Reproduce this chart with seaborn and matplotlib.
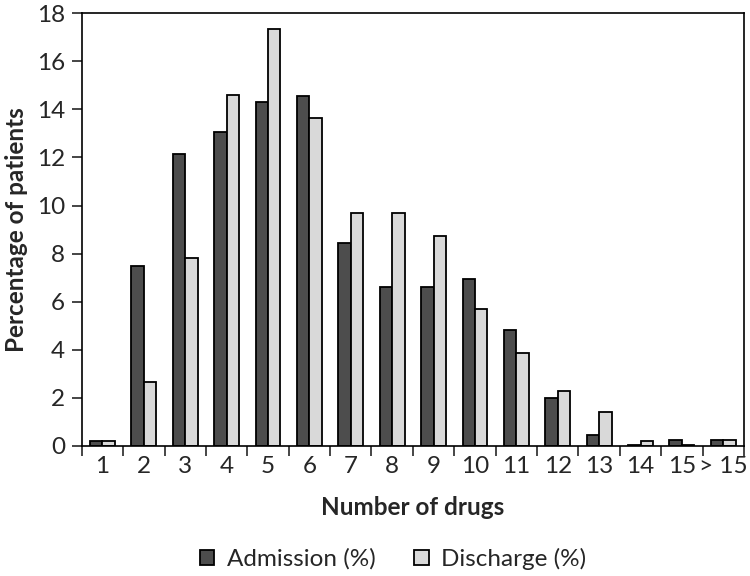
import numpy as np
import pandas as pd
import seaborn as sns
import matplotlib.pyplot as plt

# values
drug_counts = ["1", "2", "3", "4", "5", "6", "7", "8", "9", "10", "11", "12", "13", "14", "15", "> 15"]
admission = [0.2, 7.5, 12.15, 13.05, 14.3, 14.55, 8.45, 6.6, 6.6, 6.95, 4.8, 2.0, 0.45, 0.05, 0.25, 0.25]
discharge = [0.2, 2.65, 7.8, 14.6, 17.35, 13.65, 9.7, 9.7, 8.75, 5.7, 3.85, 2.3, 1.4, 0.2, 0.05, 0.25]

df = pd.DataFrame({
    "drugs": drug_counts * 2,
    "pct": admission + discharge,
    "group": ["Admission (%)"] * len(drug_counts) + ["Discharge (%)"] * len(drug_counts),
})

sns.set_style("white")
plt.rcParams['font.family'] = ['Lato', 'DejaVu Sans']
fs = 17.5

fig = plt.figure(figsize=(7.5, 5.76), dpi=100)
ax = fig.add_axes([0.109, 0.226, 0.883, 0.751])

sns.barplot(data=df, x="drugs", y="pct", hue="group", order=drug_counts,
            palette=["#4d4d4d", "#d9d9d9"], edgecolor="black", linewidth=1.3,
            width=0.6, saturation=1, ax=ax)

ax.set_xlim(-0.5, len(drug_counts) - 0.5)
ax.set_ylim(0, 18)
ax.set_yticks(np.arange(0, 19, 2))

# ticks between categories, labels centred
ax.set_xticks(np.arange(-0.5, len(drug_counts), 1))
ax.set_xticklabels([])
ax.set_xticks(np.arange(len(drug_counts)), minor=True)
ax.set_xticklabels(drug_counts, minor=True)
ax.tick_params(axis="x", which="major", direction="out", length=7, width=1.2, bottom=True)
ax.tick_params(axis="x", which="minor", length=0, pad=7, labelsize=fs)
ax.tick_params(axis="y", direction="out", length=7, width=1.2, left=True, labelsize=fs, pad=5)

for s in ax.spines.values():
    s.set_visible(True)
    s.set_color("black")
    s.set_linewidth(1.2)

ax.set_xlabel("Number of drugs", fontsize=fs, fontweight="bold", labelpad=14)
ax.set_ylabel("Percentage of patients", fontsize=fs, fontweight="bold", labelpad=6)

ax.legend(loc="upper center", bbox_to_anchor=(0.47, -0.185), ncol=2, frameon=False,
          fontsize=fs, handlelength=0.6, handleheight=0.6, columnspacing=1.6, handletextpad=0.5)

plt.savefig("out.png", dpi=100)
